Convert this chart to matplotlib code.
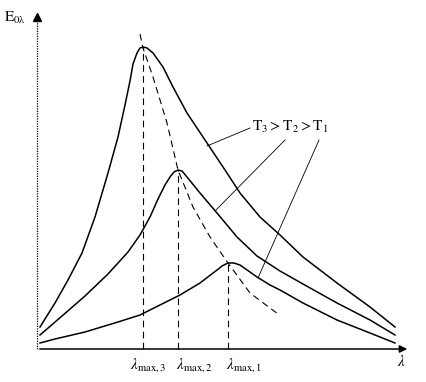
import matplotlib
matplotlib.use('Agg')
import matplotlib.pyplot as plt

plt.rcParams['mathtext.fontset'] = 'stix'
plt.rcParams['font.family'] = ['Liberation Serif', 'DejaVu Serif']

# curves (arbitrary units, origin at axes corner)
lam_T3 = [3, 18, 31, 45, 58, 71, 81, 88, 93, 96, 100, 103, 106, 110, 116, 126, 136,
          150, 170, 190, 203, 223, 243, 266, 300, 333, 358]
E_T3 = [22, 46, 69, 96, 132, 176, 212, 244, 268, 285, 296, 301, 302, 301, 296, 282, 262,
        236, 206, 176, 156, 132, 114, 92, 66, 42, 22]

lam_T2 = [3, 25, 48, 71, 91, 103, 113, 121, 128, 133, 137, 141, 145, 150, 163, 180, 200,
          220, 243, 266, 300, 333, 358]
E_T2 = [14, 33, 53, 75, 97, 114, 132, 150, 164, 172, 177, 179, 178, 172, 156, 136, 112,
        93, 78, 65, 46, 29, 14]

lam_T1 = [3, 18, 48, 81, 103, 123, 143, 163, 180, 185, 191, 197, 203, 220, 233, 243, 266,
          300, 333, 358]
E_T1 = [6, 10, 17, 27, 34, 44, 54, 66, 79, 83, 86, 86, 84, 72, 64, 59, 46, 29, 16, 6]

# Wien displacement envelope
lam_env = [103, 106, 116, 130, 141, 156, 173, 191, 213, 241]
E_env = [315, 301, 272, 226, 179, 142, 112, 86, 56, 35]

lam_max = [106, 141, 191]
E_max = [302, 179, 86]
max_labels = [r'$\lambda_{\rm max,3}$', r'$\lambda_{\rm max,2}$', r'$\lambda_{\rm max,1}$']
label_x = [93, 139, 189]

fig = plt.figure(figsize=(4.26, 3.82), dpi=100)
ax = fig.add_axes([0, 0, 1, 1])
ax.set_xlim(-37, 389)
ax.set_ylim(-33, 349)
ax.axis('off')

# axes
ax.plot([0, 0], [0, 330], color='k', lw=0.9, ls=(0, (1, 1)))
ax.plot([0], [332], marker='^', color='k', ms=6)
ax.annotate('', xy=(373, 0), xytext=(0, 0),
            arrowprops=dict(arrowstyle='-|>', lw=1.1, color='k', mutation_scale=11))

for lx, ly in [(lam_T3, E_T3), (lam_T2, E_T2), (lam_T1, E_T1)]:
    ax.plot(lx, ly, color='k', lw=1.1, solid_joinstyle='round')

ax.plot(lam_env, E_env, color='k', lw=0.8, ls=(0, (6, 4)))
for x, y in zip(lam_max, E_max):
    ax.plot([x, x], [0, y], color='k', lw=0.8, ls=(0, (6, 4)))

for x, s in zip(label_x, max_labels):
    ax.text(x, -19, s, fontsize=11, ha='left', va='baseline')
ax.text(360, -17, r'$\lambda$', fontsize=11, ha='left', va='baseline')
ax.text(-33, 327, r'$\rm E_{0\lambda}$', fontsize=11, ha='left', va='baseline')

ax.text(215, 222, r'$\rm T_3 > T_2 > T_1$', fontsize=11, ha='left', va='center')
ax.plot([213, 170], [221, 203], color='k', lw=0.6)
ax.plot([248, 179], [209, 139], color='k', lw=0.6)
ax.plot([282, 221], [209, 71], color='k', lw=0.6)

fig.savefig('out.png', dpi=100)
